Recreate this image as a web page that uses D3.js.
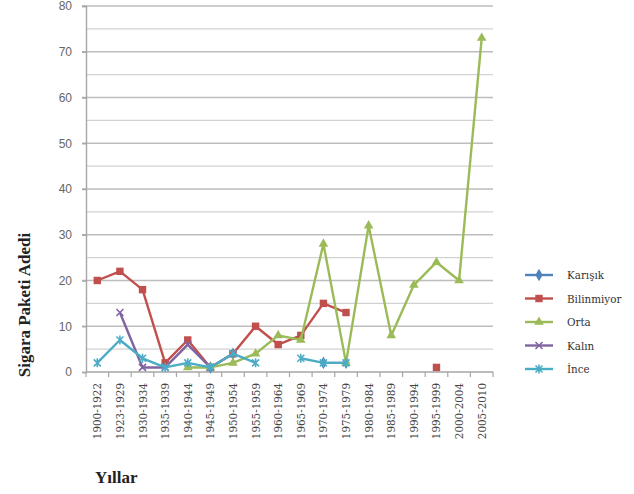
<!DOCTYPE html>
<html>
<head>
<meta charset="utf-8">
<script src="https://cdn.jsdelivr.net/npm/d3@7"></script>
<style>
  html, body { margin: 0; padding: 0; background: #fff; }
  svg { display: block; }
  .serif { font-family: "Liberation Serif", "Times New Roman", "DejaVu Serif", serif; }
  .serif-small { font-family: "DejaVu Serif Condensed", "DejaVu Serif", serif; }
  .sans { font-family: "Liberation Sans", Arial, sans-serif; }
</style>
</head>
<body>
<svg id="chart" width="634" height="494"></svg>
<script>
// Period categories on the horizontal axis
const periods = [
  "1900-1922", "1923-1929", "1930-1934", "1935-1939", "1940-1944", "1945-1949",
  "1950-1954", "1955-1959", "1960-1964", "1965-1969", "1970-1974", "1975-1979",
  "1980-1984", "1985-1989", "1990-1994", "1995-1999", "2000-2004", "2005-2010"
];

// Number of cigarette packs per period, one array per type (null = no data)
const karisik    = [null, null, null, null, null, 1, 4, null, null, null, 2, 2, null, null, null, null, null, null];
const bilinmiyor = [20, 22, 18, 2, 7, 1, 4, 10, 6, 8, 15, 13, null, null, null, 1, null, null];
const orta       = [null, null, null, null, 1, 1, 2, 4, 8, 7, 28, 2, 32, 8, 19, 24, 20, 73];
const kalin      = [null, 13, 1, 1, 6, 1, null, null, null, null, null, null, null, null, null, null, null, null];
const ince       = [2, 7, 3, 1, 2, 1, 4, 2, null, 3, 2, 2, null, null, null, null, null, null];

const seriesNames = ["Karışık", "Bilinmiyor", "Orta", "Kalın", "İnce"];
const yTicks = [0, 10, 20, 30, 40, 50, 60, 70, 80];

const seriesList = [
  { name: seriesNames[0], values: karisik,    color: "#4F81BD", marker: "diamond" },
  { name: seriesNames[1], values: bilinmiyor, color: "#C0504D", marker: "square" },
  { name: seriesNames[2], values: orta,       color: "#9BBB59", marker: "triangle" },
  { name: seriesNames[3], values: kalin,      color: "#8064A2", marker: "x" },
  { name: seriesNames[4], values: ince,       color: "#4BACC6", marker: "star" }
];

const svg = d3.select("#chart");
const plot = { left: 86, right: 493, top: 6, bottom: 372 };

const x = d3.scaleBand().domain(periods).range([plot.left, plot.right]);
const y = d3.scaleLinear().domain([0, 80]).range([plot.bottom, plot.top]);

// Horizontal gridlines every 5 units
const gridVals = d3.range(5, 81, 5);
svg.append("g")
  .selectAll("line")
  .data(gridVals)
  .join("line")
  .attr("x1", d => d % 10 === 0 ? plot.left - 4 : plot.left)
  .attr("x2", plot.right)
  .attr("y1", d => y(d))
  .attr("y2", d => y(d))
  .attr("stroke", d => d % 10 === 0 ? "#bdbdbd" : "#d2d2d2")
  .attr("stroke-width", 1.4);

// Y axis
const yAxis = svg.append("g")
  .attr("transform", `translate(${plot.left},0)`)
  .call(d3.axisLeft(y).tickValues(yTicks).tickSize(4).tickPadding(10));
yAxis.attr("font-family", null);
yAxis.select(".domain").attr("stroke", "#a6a6a6").attr("stroke-width", 1.4);
yAxis.selectAll(".tick line").attr("stroke", "#a6a6a6").attr("stroke-width", 1.4);
yAxis.selectAll(".tick text")
  .attr("class", "sans")
  .attr("font-size", 12)
  .attr("fill", "#666");

// X axis with tick marks on category boundaries
const xAxisG = svg.append("g").attr("transform", `translate(0,${plot.bottom})`);
xAxisG.append("line")
  .attr("x1", plot.left).attr("x2", plot.right)
  .attr("y1", 0).attr("y2", 0)
  .attr("stroke", "#a6a6a6").attr("stroke-width", 1.4);
xAxisG.selectAll("line.tick")
  .data(periods.map(p => x(p)).concat([plot.right]))
  .join("line")
  .attr("class", "tick")
  .attr("x1", d => d).attr("x2", d => d)
  .attr("y1", 0).attr("y2", 5)
  .attr("stroke", "#a6a6a6").attr("stroke-width", 1.2);
xAxisG.selectAll("text")
  .data(periods)
  .join("text")
  .attr("class", "serif-small")
  .attr("transform", d => `translate(${x(d) + x.bandwidth() / 2 + 4},11) rotate(-90)`)
  .attr("text-anchor", "end")
  .attr("font-size", 11.5)
  .attr("fill", "#444")
  .text(d => d);

// Axis titles
svg.append("text")
  .attr("class", "serif")
  .attr("transform", "translate(30,305) rotate(-90)")
  .attr("text-anchor", "middle")
  .attr("font-weight", "bold")
  .attr("font-size", 17)
  .attr("fill", "#222")
  .text("Sigara Paketi Adedi");

svg.append("text")
  .attr("class", "serif")
  .attr("x", 95)
  .attr("y", 483)
  .attr("font-weight", "bold")
  .attr("font-size", 17)
  .attr("fill", "#222")
  .text("Yıllar");

// Marker drawing helper
function drawMarker(g, type, color, cx, cy) {
  if (type === "diamond") {
    g.append("path").attr("d", d3.symbol(d3.symbolDiamond, 45)())
      .attr("transform", `translate(${cx},${cy})`).attr("fill", color);
  } else if (type === "square") {
    g.append("path").attr("d", d3.symbol(d3.symbolSquare, 55)())
      .attr("transform", `translate(${cx},${cy})`).attr("fill", color);
  } else if (type === "triangle") {
    g.append("path").attr("d", d3.symbol(d3.symbolTriangle, 40)())
      .attr("transform", `translate(${cx},${cy})`).attr("fill", color);
  } else if (type === "x") {
    const r = 3.5;
    g.append("path")
      .attr("d", `M${-r},${-r}L${r},${r}M${-r},${r}L${r},${-r}`)
      .attr("transform", `translate(${cx},${cy})`)
      .attr("stroke", color).attr("stroke-width", 1.6).attr("fill", "none");
  } else if (type === "star") {
    const r = 3.5;
    g.append("path")
      .attr("d", `M${-r},${-r}L${r},${r}M${-r},${r}L${r},${-r}M0,${-r - 1}L0,${r + 1}`)
      .attr("transform", `translate(${cx},${cy})`)
      .attr("stroke", color).attr("stroke-width", 1.6).attr("fill", "none");
  }
}

// Series lines and markers
const line = d3.line()
  .defined(d => d.v !== null)
  .x(d => x(d.p) + x.bandwidth() / 2)
  .y(d => y(d.v));

seriesList.forEach(s => {
  const pts = periods.map((p, i) => ({ p, v: s.values[i] }));
  const g = svg.append("g");
  g.append("path")
    .datum(pts)
    .attr("d", line)
    .attr("fill", "none")
    .attr("stroke", s.color)
    .attr("stroke-width", 2.4)
    .attr("stroke-linejoin", "round");
  pts.filter(d => d.v !== null).forEach(d => {
    drawMarker(g, s.marker, s.color, x(d.p) + x.bandwidth() / 2, y(d.v));
  });
});

// Legend
const legend = svg.append("g");
seriesList.forEach((s, i) => {
  const ly = 275 + i * 23.5;
  legend.append("line")
    .attr("x1", 525).attr("x2", 553)
    .attr("y1", ly).attr("y2", ly)
    .attr("stroke", s.color).attr("stroke-width", 2.4);
  drawMarker(legend, s.marker, s.color, 539, ly);
  legend.append("text")
    .attr("class", "serif-small")
    .attr("x", 567).attr("y", ly + 4)
    .attr("font-size", 11.5)
    .attr("fill", "#333")
    .text(s.name);
});
</script>
</body>
</html>
